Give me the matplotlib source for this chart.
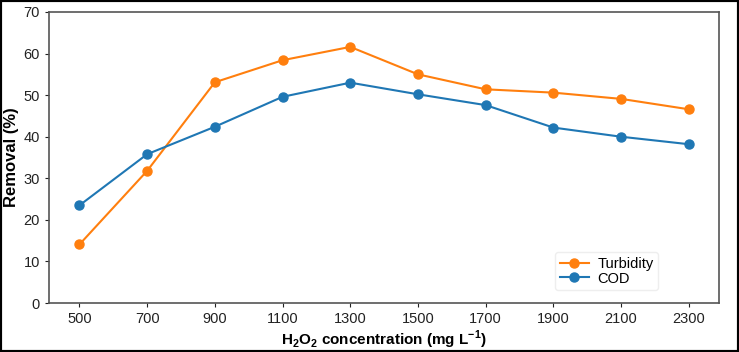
import matplotlib.pyplot as plt
from matplotlib.patches import Rectangle

plt.rcParams['font.family'] = ['Liberation Sans', 'DejaVu Sans']
plt.rcParams['mathtext.fontset'] = 'custom'
plt.rcParams['mathtext.rm'] = 'Liberation Sans'
plt.rcParams['mathtext.bf'] = 'Liberation Sans:bold'

# data
conc = [500, 700, 900, 1100, 1300, 1500, 1700, 1900, 2100, 2300]
turbidity = [14.1, 31.8, 53.1, 58.4, 61.6, 55.0, 51.4, 50.6, 49.1, 46.6]
cod = [23.5, 35.8, 42.4, 49.6, 53.0, 50.2, 47.6, 42.2, 40.0, 38.2]

fig = plt.figure(figsize=(7.39, 3.52), dpi=100)
ax = fig.add_axes([0.0663, 0.139, 0.907, 0.827])

ax.plot(conc, turbidity, '-o', color='#ff7f0e', lw=1.5, ms=6.5, label='Turbidity')
ax.plot(conc, cod, '-o', color='#1f77b4', lw=1.5, ms=6.5, label='COD')

ax.set_ylim(0, 70)
ax.set_xticks(conc)
ax.tick_params(labelsize=10.5, length=3, colors='#222222')
for s in ax.spines.values():
    s.set_color('#555555')
    s.set_linewidth(1.2)

ax.set_ylabel('Removal (%)', fontsize=12, fontweight='bold', labelpad=3)
ax.set_xlabel(r'H$_\mathbf{2}$O$_\mathbf{2}$ concentration (mg L$^\mathbf{-1}$)',
              fontsize=11, fontweight='bold', labelpad=2)

ax.legend(loc='lower right', bbox_to_anchor=(0.92, 0.02), fontsize=10.5,
          handlelength=2.0, borderpad=0.3, labelspacing=0.05, handletextpad=0.6,
          framealpha=1, edgecolor='#eeeeee')

# black frame around the whole image
fig.patches.append(Rectangle((0, 0), 1, 1, transform=fig.transFigure,
                             fill=False, edgecolor='black', lw=3))

fig.savefig('out.png', dpi=100)
